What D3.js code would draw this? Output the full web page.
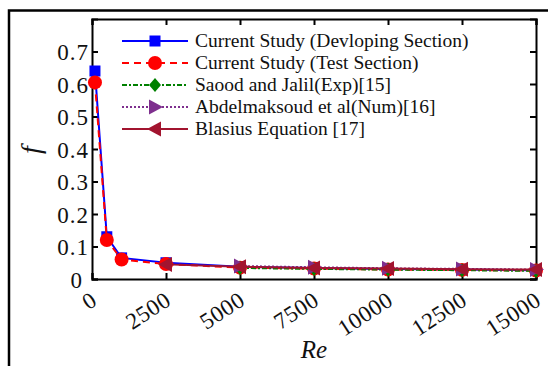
<!DOCTYPE html>
<html>
<head>
<meta charset="utf-8">
<script src="https://cdn.jsdelivr.net/npm/d3@7"></script>
<style>
  body { margin: 0; background: #fff; }
  svg text { font-family: "Liberation Serif", "DejaVu Serif", serif; fill: #111; }
</style>
</head>
<body>
<svg id="paper" width="548" height="366"></svg>
<script>
// data
let reDev = [100, 500, 1000, 2500, 5000, 7500, 10000, 12500, 15000];
let fDev = [0.64, 0.13, 0.065, 0.05, 0.038, 0.034, 0.031, 0.029, 0.027];
let reTest = [100, 500, 1000, 2500, 5000, 7500, 10000, 12500, 15000];
let fTest = [0.605, 0.12, 0.06, 0.046, 0.035, 0.032, 0.029, 0.028, 0.026];
let reLit = [5000, 7500, 10000, 12500, 15000];
let fSaood = [0.034, 0.031, 0.029, 0.027, 0.025];
let fAbdel = [0.04, 0.036, 0.033, 0.031, 0.029];
let reBlas = [2500, 5000, 7500, 10000, 12500, 15000];
let fBlas = [0.045, 0.038, 0.034, 0.032, 0.03, 0.029];

let xTicks = [0, 2500, 5000, 7500, 10000, 12500, 15000];
let yTicks = [0, 0.1, 0.2, 0.3, 0.4, 0.5, 0.6, 0.7];

let series = [
    {name: "Current Study (Devloping Section)", x: reDev, y: fDev, color: "#0000ff", dash: null, marker: "square"},
    {name: "Current Study (Test Section)", x: reTest, y: fTest, color: "#ff0000", dash: "7,5", marker: "circle"},
    {name: "Saood and Jalil(Exp)[15]", x: reLit, y: fSaood, color: "#008000", dash: "5,2,2,2", marker: "diamond"},
    {name: "Abdelmaksoud et al(Num)[16]", x: reLit, y: fAbdel, color: "#7e2f8e", dash: "2,2", marker: "right"},
    {name: "Blasius Equation [17]", x: reBlas, y: fBlas, color: "#a2142f", dash: null, marker: "left"}
];

// set the dimensions and margins of the diagram
var margin = {top: 19, right: 12, bottom: 87, left: 92},
    width = 548 - margin.left - margin.right,
    height = 366 - margin.top - margin.bottom;

var svg = d3.select("#paper");

// outer frame
svg.append("path")
    .attr("d", "M9,366 V10.5 H548")
    .attr("fill", "none")
    .attr("stroke", "#000")
    .attr("stroke-width", 2.5);

var g = svg.append("g")
    .attr("transform", "translate(" + margin.left + "," + margin.top + ")");

var x = d3.scaleLinear().domain([0, 15000]).range([0, width]);
var y = d3.scaleLinear().domain([0, 0.8]).range([height, 0]);

// axes, ticks pointing inward
var xAxis = g.append("g")
    .attr("transform", "translate(0," + height + ")")
    .call(d3.axisBottom(x).tickValues(xTicks).tickSize(-6).tickFormat(d3.format("d")));
xAxis.selectAll("text")
    .style("font-size", "23px")
    .style("letter-spacing", "0.5px")
    .attr("text-anchor", "end")
    .attr("y", 0)
    .attr("dy", 0)
    .attr("transform", "translate(6,25) rotate(-33)");

var yAxis = g.append("g")
    .call(d3.axisLeft(y).tickValues(yTicks).tickSize(-6).tickPadding(3)
        .tickFormat(d => d === 0 ? "0" : d3.format(".1f")(d)));
yAxis.selectAll("text")
    .style("font-size", "23px")
    .style("letter-spacing", "1px")
    .attr("dy", "0.36em")
    .attr("dx", d => d === 0 ? -6 : 0);

g.append("g")
    .call(d3.axisTop(x).tickValues(xTicks).tickSize(-6).tickFormat(""));
g.append("g")
    .attr("transform", "translate(" + width + ",0)")
    .call(d3.axisRight(y).tickValues(yTicks).tickSize(-6).tickFormat(""));

g.selectAll(".domain").attr("stroke", "#000").attr("stroke-width", 2);
g.selectAll(".tick line").attr("stroke", "#000").attr("stroke-width", 2);

// axis titles
svg.append("text")
    .attr("transform", "translate(40,150) rotate(-90)")
    .attr("text-anchor", "middle")
    .style("font-size", "28px")
    .style("font-style", "italic")
    .text("f");

svg.append("text")
    .attr("x", 314)
    .attr("y", 358)
    .attr("text-anchor", "middle")
    .style("font-size", "25px")
    .style("font-style", "italic")
    .text("Re");

function drawMarker(sel, kind, color) {
    if (kind === "square") {
        sel.append("rect").attr("x", -5.5).attr("y", -5.5).attr("width", 11).attr("height", 11).attr("fill", color);
    } else if (kind === "circle") {
        sel.append("circle").attr("r", 7).attr("fill", color);
    } else if (kind === "diamond") {
        sel.append("path").attr("d", "M0,-7 L6,0 L0,7 L-6,0 Z").attr("fill", color);
    } else if (kind === "right") {
        sel.append("path").attr("d", "M8,0 L-6,-7.5 L-6,7.5 Z").attr("fill", color);
    } else if (kind === "left") {
        sel.append("path").attr("d", "M-8,0 L6,-7.5 L6,7.5 Z").attr("fill", color);
    }
}

var line = d3.line().x(d => x(d[0])).y(d => y(d[1]));

series.forEach(s => {
    let pts = s.x.map((v, i) => [v, s.y[i]]);
    g.append("path")
        .datum(pts)
        .attr("d", line)
        .attr("fill", "none")
        .attr("stroke", s.color)
        .attr("stroke-width", 2)
        .attr("stroke-dasharray", s.dash);
    g.selectAll(null)
        .data(pts)
        .enter().append("g")
        .attr("transform", d => "translate(" + x(d[0]) + "," + y(d[1]) + ")")
        .each(function () { drawMarker(d3.select(this), s.marker, s.color); });
});

// legend
var legend = svg.append("g").attr("transform", "translate(122,41)");
series.forEach((s, i) => {
    let row = legend.append("g").attr("transform", "translate(0," + (i * 22) + ")");
    row.append("line")
        .attr("x1", 0).attr("x2", 66)
        .attr("stroke", s.color)
        .attr("stroke-width", 2)
        .attr("stroke-dasharray", s.dash);
    drawMarker(row.append("g").attr("transform", "translate(33,0)"), s.marker, s.color);
    row.append("text")
        .attr("x", 73)
        .attr("y", 6)
        .style("font-size", "19.5px")
        .text(s.name);
});
</script>
</body>
</html>
